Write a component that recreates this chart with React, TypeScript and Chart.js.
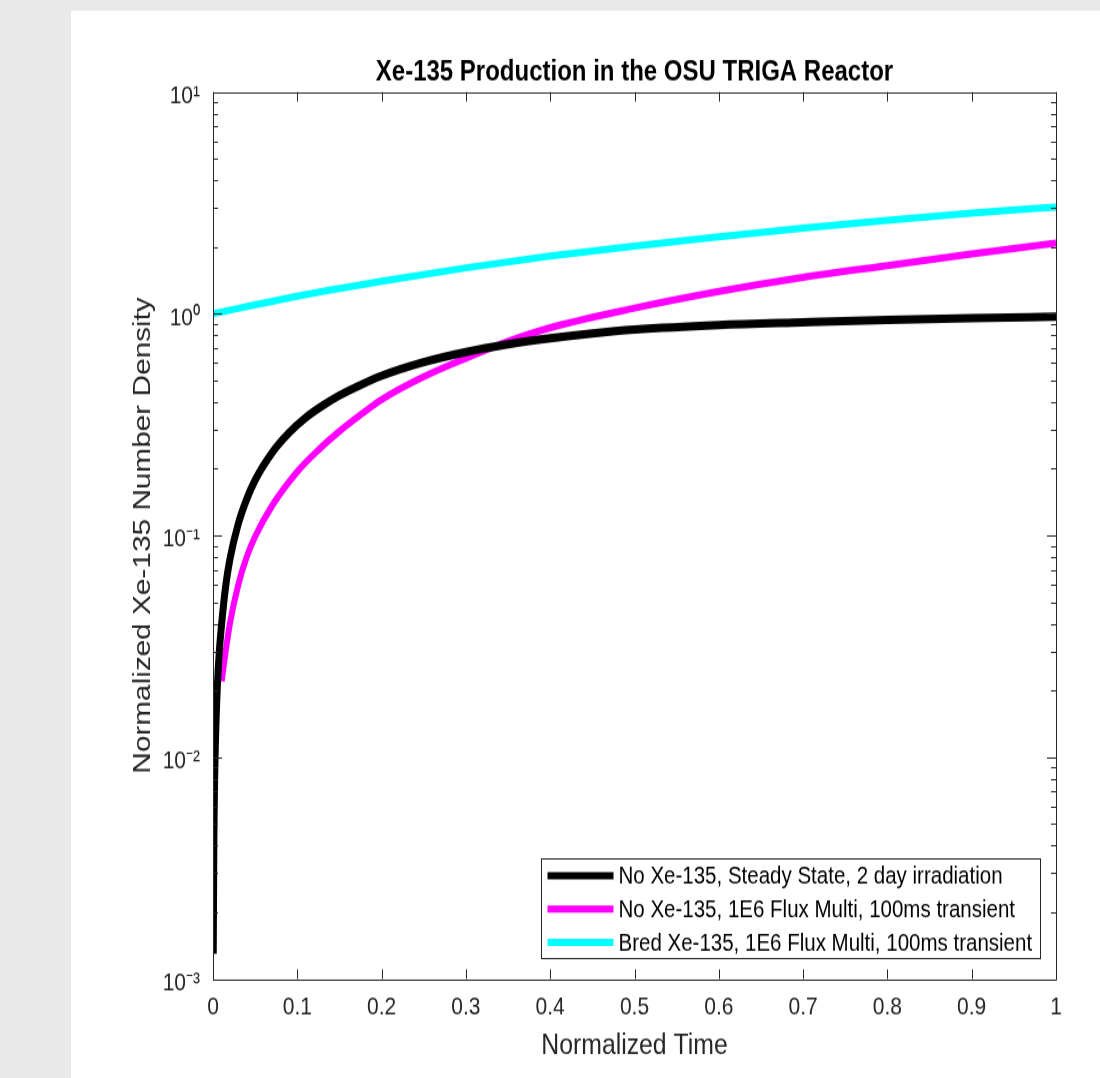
import React, { useEffect, useRef } from 'react';
import { Chart, registerables } from 'chart.js';

Chart.register(...registerables);

const FONT = '"Liberation Sans", Arial, Helvetica, sans-serif';
const AXIS_COLOR = '#262626';

const chartTitle = 'Xe-135 Production in the OSU TRIGA Reactor';
const xAxisTitle = 'Normalized Time';
const yAxisTitle = 'Normalized Xe-135 Number Density';

const seriesLabels = [
  'No Xe-135, Steady State, 2 day irradiation',
  'No Xe-135, 1E6 Flux Multi, 100ms transient',
  'Bred Xe-135, 1E6 Flux Multi, 100ms transient',
];
const seriesColors = ['#000000', '#ff00ff', '#00ffff'];

// Series 1: No Xe-135, steady state
const steadyTime = [0.0003, 0.001, 0.002, 0.003, 0.005, 0.0075, 0.01, 0.015, 0.02, 0.03, 0.04, 0.05, 0.07, 0.09, 0.11, 0.13, 0.15, 0.175, 0.2, 0.25, 0.3, 0.35, 0.4, 0.45, 0.5, 0.6, 0.7, 0.8, 0.9, 1.0];
const steadyValue = [0.0013, 0.0041, 0.0082, 0.0122, 0.0203, 0.03, 0.039, 0.059, 0.078, 0.113, 0.146, 0.178, 0.236, 0.29, 0.34, 0.385, 0.428, 0.477, 0.525, 0.605, 0.672, 0.728, 0.775, 0.815, 0.848, 0.89, 0.915, 0.938, 0.955, 0.97];

// Series 2: No Xe-135, transient
const transientTime = [0.0103, 0.015, 0.02, 0.03, 0.04, 0.05, 0.07, 0.1, 0.125, 0.15, 0.175, 0.2, 0.25, 0.3, 0.35, 0.4, 0.5, 0.6, 0.7, 0.8, 0.9, 1.0];
const transientValue = [0.022, 0.03, 0.04, 0.06, 0.08, 0.099, 0.136, 0.194, 0.243, 0.295, 0.35, 0.41, 0.52, 0.63, 0.75, 0.865, 1.06, 1.26, 1.46, 1.65, 1.86, 2.08];

// Series 3: Bred Xe-135, transient
const bredTime = [0, 0.1, 0.2, 0.3, 0.4, 0.5, 0.6, 0.7, 0.8, 0.9, 1.0];
const bredValue = [1.0, 1.2, 1.4, 1.61, 1.82, 2.02, 2.22, 2.43, 2.64, 2.84, 3.03];

const xTickValues = [0, 0.1, 0.2, 0.3, 0.4, 0.5, 0.6, 0.7, 0.8, 0.9, 1];
const yTickExponents = [-3, -2, -1, 0, 1];

const SUP: Record<string, string> = { '-': '\u207B', '0': '\u2070', '1': '\u00B9', '2': '\u00B2', '3': '\u00B3' };
const powLabel = (e: number) => '10' + String(e).split('').map((c) => SUP[c] || c).join('');

const toPoints = (t: number[], v: number[]) => t.map((x, i) => ({ x, y: v[i] }));

// The reference figure is vertically stretched; the canvas is drawn shorter and stretched by CSS.
const PAGE_W = 1100;
const PAGE_H = 1078;
const CANVAS_H = 898;
const STRETCH = PAGE_H / CANVAS_H;

const decorPlugin = {
  id: 'decor',
  beforeDraw(chart: any) {
    const { ctx, width, height } = chart;
    ctx.save();
    ctx.fillStyle = '#e9e9e9';
    ctx.fillRect(0, 0, width, height);
    ctx.fillStyle = '#ffffff';
    ctx.fillRect(71, 9, width - 71, height - 9);
    ctx.restore();
  },
  afterDatasetsDraw(chart: any) {
    const { ctx, chartArea } = chart;
    const { left, right, top, bottom } = chartArea;
    const xs = chart.scales.x;
    const ys = chart.scales.y;
    ctx.save();
    ctx.strokeStyle = AXIS_COLOR;
    ctx.lineWidth = 1;
    ctx.beginPath();
    ctx.rect(Math.round(left) + 0.5, Math.round(top) + 0.5, Math.round(right - left), Math.round(bottom - top));
    ctx.stroke();

    ctx.beginPath();
    const majorV = 8;
    const majorH = 9;
    const minorH = 5;
    xTickValues.forEach((v) => {
      const px = Math.round(xs.getPixelForValue(v)) + 0.5;
      ctx.moveTo(px, bottom);
      ctx.lineTo(px, bottom - majorV);
      ctx.moveTo(px, top);
      ctx.lineTo(px, top + majorV);
    });
    yTickExponents.forEach((e) => {
      const py = Math.round(ys.getPixelForValue(Math.pow(10, e))) + 0.5;
      ctx.moveTo(left, py);
      ctx.lineTo(left + majorH, py);
      ctx.moveTo(right, py);
      ctx.lineTo(right - majorH, py);
      if (e < yTickExponents[yTickExponents.length - 1]) {
        for (let m = 2; m <= 9; m++) {
          const pm = Math.round(ys.getPixelForValue(m * Math.pow(10, e))) + 0.5;
          ctx.moveTo(left, pm);
          ctx.lineTo(left + minorH, pm);
          ctx.moveTo(right, pm);
          ctx.lineTo(right - minorH, pm);
        }
      }
    });
    ctx.stroke();

    // Legend box (inside plot, lower right)
    const boxW = 499;
    const boxH = 83;
    const bx = Math.round(right - 16 - boxW) + 0.5;
    const by = Math.round(bottom - 17.5 - boxH) + 0.5;
    ctx.fillStyle = '#ffffff';
    ctx.fillRect(bx, by, boxW, boxH);
    ctx.strokeStyle = AXIS_COLOR;
    ctx.lineWidth = 1;
    ctx.strokeRect(bx, by, boxW, boxH);
    ctx.font = `20.5px ${FONT}`;
    ctx.textBaseline = 'middle';
    ctx.textAlign = 'left';
    chart.data.datasets.forEach((ds: any, i: number) => {
      const cy = by + 14 + i * 27.7;
      ctx.strokeStyle = ds.borderColor;
      ctx.lineWidth = 6;
      ctx.lineCap = 'butt';
      ctx.beginPath();
      ctx.moveTo(bx + 6, cy);
      ctx.lineTo(bx + 72, cy);
      ctx.stroke();
      ctx.fillStyle = '#000000';
      ctx.fillText(ds.label, bx + 77, cy + 1);
    });
    ctx.restore();
  },
};

export default function App() {
  const canvasRef = useRef<HTMLCanvasElement | null>(null);

  useEffect(() => {
    if (!canvasRef.current) return;
    const chart = new Chart(canvasRef.current, {
      type: 'line',
      data: {
        datasets: [
          { label: seriesLabels[0], data: toPoints(steadyTime, steadyValue), borderColor: seriesColors[0], borderWidth: 7 },
          { label: seriesLabels[1], data: toPoints(transientTime, transientValue), borderColor: seriesColors[1], borderWidth: 6 },
          { label: seriesLabels[2], data: toPoints(bredTime, bredValue), borderColor: seriesColors[2], borderWidth: 6 },
        ].map((d) => ({ ...d, pointRadius: 0, fill: false, cubicInterpolationMode: 'monotone' as const, borderCapStyle: 'butt' as const })),
      },
      options: {
        responsive: false,
        animation: false,
        devicePixelRatio: 1,
        layout: { padding: { left: 0, right: 44, top: 0, bottom: 0 } },
        plugins: {
          legend: { display: false },
          tooltip: { enabled: false },
          title: {
            display: true,
            fullSize: false,
            text: chartTitle,
            color: '#000000',
            font: { family: FONT, size: 24, weight: 'bold' },
            padding: { top: 45.6, bottom: 2.2 },
          },
        },
        scales: {
          x: {
            type: 'linear',
            min: 0,
            max: 1,
            grid: { display: false, drawTicks: false },
            border: { display: false },
            afterBuildTicks: (s: any) => {
              s.ticks = xTickValues.map((v) => ({ value: v }));
            },
            afterFit: (s: any) => {
              s.height = 82.5;
            },
            ticks: {
              color: AXIS_COLOR,
              font: { family: FONT, size: 21 },
              padding: 11.6,
              maxRotation: 0,
              autoSkip: false,
              callback: (v: any) => String(Number(Number(v).toFixed(1))),
            },
            title: {
              display: true,
              text: xAxisTitle,
              color: AXIS_COLOR,
              font: { family: FONT, size: 24.8 },
              padding: { top: 0, bottom: 11.7 },
            },
          },
          y: {
            type: 'logarithmic',
            min: 0.001,
            max: 10,
            grid: { display: false, drawTicks: false },
            border: { display: false },
            afterBuildTicks: (s: any) => {
              s.ticks = yTickExponents.map((e) => ({ value: Math.pow(10, e) }));
            },
            afterFit: (s: any) => {
              s.width = 213;
            },
            ticks: {
              color: AXIS_COLOR,
              font: { family: FONT, size: 21 },
              padding: 13,
              labelOffset: 3.5,
              autoSkip: false,
              callback: (v: any) => powLabel(Math.round(Math.log10(Number(v)))),
            },
            title: {
              display: true,
              text: yAxisTitle,
              color: AXIS_COLOR,
              font: { family: FONT, size: 24.8 },
              padding: { top: 128.1, bottom: 0 },
            },
          },
        },
      },
      plugins: [decorPlugin],
    } as any);
    return () => chart.destroy();
  }, []);

  return (
    <div style={{ position: 'fixed', left: 0, top: 0, width: `${PAGE_W}px`, height: `${PAGE_H}px`, overflow: 'hidden', background: '#e9e9e9' }}>
      <canvas
        ref={canvasRef}
        width={PAGE_W}
        height={CANVAS_H}
        style={{
          display: 'block',
          width: `${PAGE_W}px`,
          height: `${CANVAS_H}px`,
          transform: `scale(1, ${STRETCH})`,
          transformOrigin: '0 0',
        }}
      />
    </div>
  );
}
